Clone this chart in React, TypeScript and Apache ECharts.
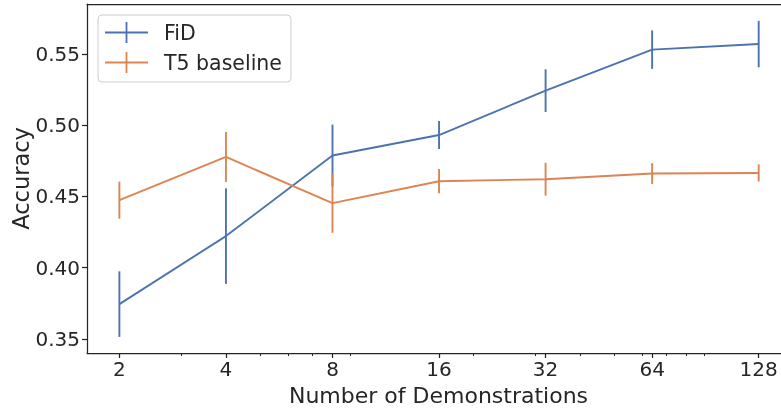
import React, { useEffect, useRef } from "react";
import * as echarts from "echarts";

const demos = [2, 4, 8, 16, 32, 64, 128];
const fidMean = [0.3745, 0.4222, 0.4787, 0.4931, 0.5242, 0.553, 0.5569];
const fidErr = [0.023, 0.0335, 0.0217, 0.0098, 0.015, 0.0135, 0.0163];
const t5Mean = [0.4474, 0.4777, 0.4453, 0.4607, 0.4621, 0.4661, 0.4665];
const t5Err = [0.013, 0.0175, 0.0208, 0.0085, 0.0115, 0.0073, 0.006];
const yTicks = [0.35, 0.4, 0.45, 0.5, 0.55];
const xTicks = [2, 4, 8, 16, 32, 64, 128];
const xMinorTicks = [3, 5, 6, 7, 9, 20, 30, 40, 50, 60, 70, 80, 90];

const BLUE = "#4c72b0";
const ORANGE = "#dd8452";
const TEXT = "#262626";
const FONT = "DejaVu Sans";

const ICON = "path://M0,9.6h43v1.8H0z M20.6,0h1.8v21h-1.8z";

export default function App() {
  const ref = useRef<HTMLDivElement>(null);
  useEffect(() => {
    if (!ref.current) return;
    const chart = echarts.init(ref.current, undefined, { renderer: "svg" });
    const xMin = Math.log2(1.62);
    const xMax = Math.log2(148);
    const lineData = (m: number[]) => demos.map((d, i) => [Math.log2(d), m[i]]);
    const errData = (m: number[], e: number[]) =>
      demos.map((d, i) => [Math.log2(d), m[i] - e[i], m[i] + e[i]]);
    const errSeries = (name: string, m: number[], e: number[], color: string) => ({
      name,
      type: "custom",
      xAxisIndex: 0,
      yAxisIndex: 0,
      data: errData(m, e),
      encode: { x: 0, y: [1, 2] },
      renderItem: (_p: any, api: any) => {
        const x = api.value(0);
        const a = api.coord([x, api.value(1)]);
        const b = api.coord([x, api.value(2)]);
        return {
          type: "line",
          shape: { x1: a[0], y1: a[1], x2: b[0], y2: b[1] },
          style: { stroke: color, lineWidth: 1.9 },
        };
      },
      z: 3,
    });
    const commonX = {
      type: "value",
      min: xMin,
      max: xMax,
      splitLine: { show: false },
    };
    chart.setOption({
      animation: false,
      grid: {
        left: 87,
        top: 4,
        right: 0,
        bottom: 55,
        containLabel: false,
        outerBoundsMode: "none",
      },
      legend: {
        data: ["FiD", "T5 baseline"],
        orient: "vertical",
        left: 98,
        top: 15,
        icon: ICON,
        itemWidth: 43,
        itemHeight: 21,
        itemGap: 9,
        padding: [7, 9, 9, 7],
        backgroundColor: "rgba(255,255,255,0.8)",
        borderColor: "#cccccc",
        borderWidth: 1,
        borderRadius: 4,
        itemStyle: { borderWidth: 0 },
        textStyle: {
          fontSize: 20.5,
          color: TEXT,
          fontFamily: FONT,
          padding: [0, 0, 0, 11],
        },
      },
      xAxis: [
        {
          ...commonX,
          position: "bottom",
          name: "Number of Demonstrations",
          nameLocation: "middle",
          nameGap: 32,
          nameMoveOverlap: false,
          nameTextStyle: {
            fontSize: 22,
            lineHeight: 20,
            color: TEXT,
            fontFamily: FONT,
            padding: [0, 0, 0, 9],
          },
          axisLine: { show: true, lineStyle: { color: TEXT, width: 1.25 } },
          axisTick: {
            show: true,
            length: 5,
            lineStyle: { color: TEXT, width: 1.25 },
            customValues: xTicks.map((v) => Math.log2(v)),
          },
          axisLabel: {
            fontSize: 20,
            lineHeight: 18,
            color: TEXT,
            fontFamily: FONT,
            margin: 7,
            customValues: xTicks.map((v) => Math.log2(v)),
            formatter: (v: number) => String(Math.round(Math.pow(2, v))),
          },
        },
        {
          ...commonX,
          position: "bottom",
          axisLine: { show: false },
          axisTick: {
            show: true,
            length: 3,
            lineStyle: { color: TEXT, width: 1 },
            customValues: xMinorTicks.map((v) => Math.log2(v)),
          },
          axisLabel: { show: false },
        },
        {
          ...commonX,
          position: "top",
          axisLine: { show: true, lineStyle: { color: TEXT, width: 1.25 } },
          axisTick: { show: false },
          axisLabel: { show: false },
        },
      ],
      yAxis: {
        type: "value",
        min: 0.3402,
        max: 0.585,
        splitLine: { show: false },
        name: "Accuracy",
        nameLocation: "middle",
        nameGap: 55,
        nameMoveOverlap: false,
        nameTextStyle: { fontSize: 22.5, color: TEXT, fontFamily: FONT },
        axisLine: { show: true, lineStyle: { color: TEXT, width: 1.25 } },
        axisTick: {
          show: true,
          length: 5,
          lineStyle: { color: TEXT, width: 1.25 },
          customValues: yTicks,
        },
        axisLabel: {
          fontSize: 20,
          color: TEXT,
          fontFamily: FONT,
          margin: 7,
          customValues: yTicks,
          formatter: (v: number) => v.toFixed(2),
        },
      },
      series: [
        {
          name: "FiD",
          type: "line",
          data: lineData(fidMean),
          symbol: "none",
          color: BLUE,
          lineStyle: { color: BLUE, width: 1.9 },
          z: 2,
        },
        errSeries("FiD err", fidMean, fidErr, BLUE),
        {
          name: "T5 baseline",
          type: "line",
          data: lineData(t5Mean),
          symbol: "none",
          color: ORANGE,
          lineStyle: { color: ORANGE, width: 1.9 },
          z: 4,
        },
        { ...errSeries("T5 err", t5Mean, t5Err, ORANGE), z: 5 },
      ],
    });
    return () => chart.dispose();
  }, []);
  return (
    <div
      ref={ref}
      style={{ position: "fixed", left: 0, top: 0, width: 781, height: 408 }}
    />
  );
}
